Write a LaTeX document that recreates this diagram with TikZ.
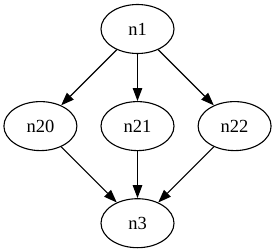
\documentclass[tikz,border=0pt]{standalone}
\usepackage{fontspec}
\setmainfont{Liberation Serif}
\usetikzlibrary{shapes.geometric}
\usetikzlibrary{positioning}
\usetikzlibrary{arrows.meta}
\tikzset{
graph_node/.style={ellipse, draw, line width=1.1pt, inner sep=0pt, minimum width=73pt, minimum height=49pt, font=\fontsize{18.5}{20}\selectfont},
graph_edge/.style={-{Triangle[length=13pt, width=9.5pt]}, line width=1.1pt}
}

\begin{document}
\begin{tikzpicture}
    \path[use as bounding box] (0,0) rectangle (275pt,-251pt);
    \node[graph_node] (n1) at (137.5pt,-29pt) {n1};
    \node[graph_node] (n21) [below=47pt of n1] {n21};
    \node[graph_node] (n20) [left=23pt of n21] {n20};
    \node[graph_node] (n22) [right=23pt of n21] {n22};
    \node[graph_node] (n3) [below=47pt of n21] {n3};
    \draw[graph_edge] (n1) -- (n20);
    \draw[graph_edge] (n1) -- (n21);
    \draw[graph_edge] (n1) -- (n22);
    \draw[graph_edge] (n20) -- (n3);
    \draw[graph_edge] (n21) -- (n3);
    \draw[graph_edge] (n22) -- (n3);
\end{tikzpicture}
\end{document}
